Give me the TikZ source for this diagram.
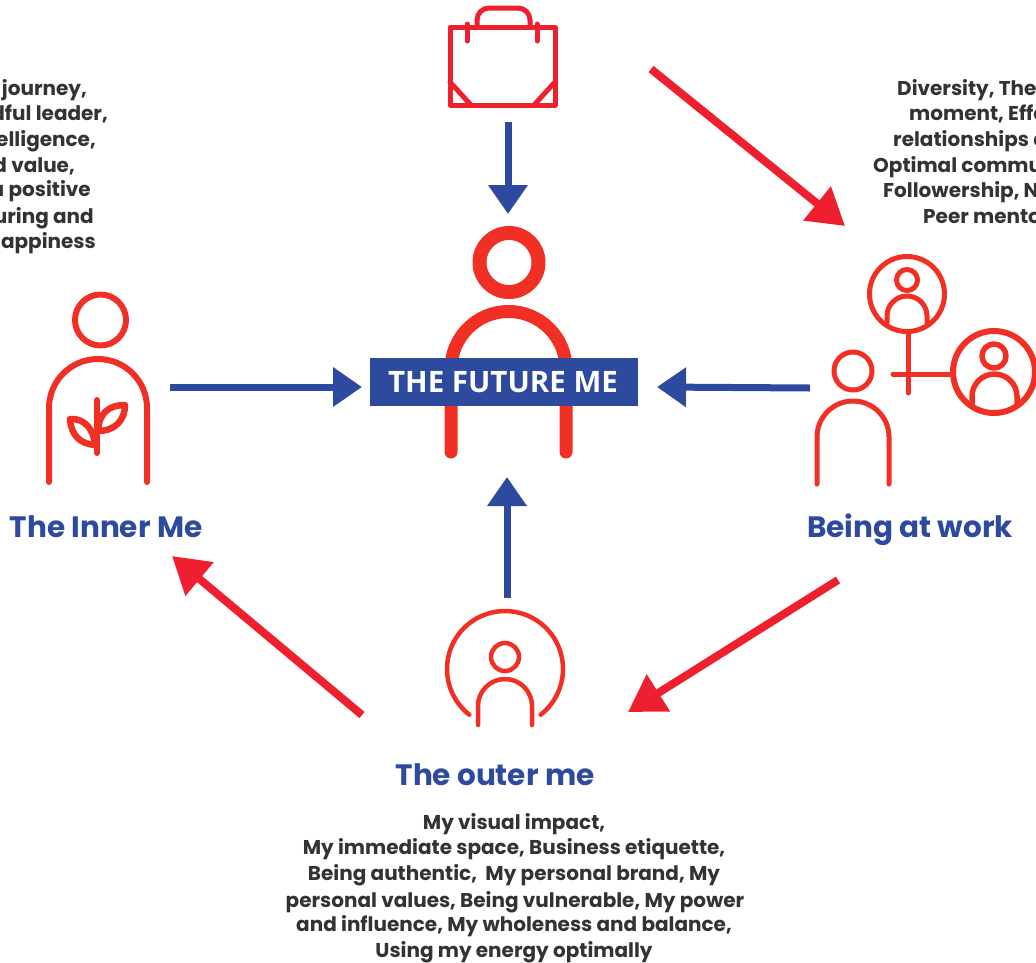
\documentclass[tikz,border=0pt]{standalone}
\usepackage{fontspec}
\setmainfont{Poppins}
\newfontfamily\boxfont{Open Sans}
\usetikzlibrary{arrows.meta}
\definecolor{iconred}{HTML}{F03024}
\definecolor{arrowred}{HTML}{EE2030}
\definecolor{navy}{HTML}{2E4A9E}
\definecolor{ink}{HTML}{333333}
\tikzset{
  icon/.style={draw=iconred,line width=#1,line cap=round,line join=round},
  icon/.default=5pt,
  bagline/.style={draw=arrowred,line width=5pt,line cap=round,line join=round},
  bluearrow/.style={draw=navy,line width=7pt,-{Triangle[length=29pt,width=38pt,fill=navy]}},
  redarrow/.style={draw=arrowred,line width=8pt,-{Triangle[length=36pt,width=42pt,fill=arrowred]}},
  body/.style={font=\fontsize{20}{24}\selectfont\bfseries,text=ink,inner sep=0pt},
  heading/.style={font=\fontsize{29.5}{34}\selectfont\bfseries,text=navy,inner sep=0pt,anchor=base},
}
\begin{document}
\begin{tikzpicture}[x=1pt,y=1pt]
\useasboundingbox (0,0) rectangle (1036,-962);
\clip (0,0) rectangle (1036,-962);
% centre figure
\draw[icon=14pt] (509,-262.5) circle (29.5);
\draw[icon=13pt] (451,-452) -- (451,-369) arc[start angle=180,end angle=0,radius=57.5] -- (566,-452);
\node[fill=navy,minimum width=268pt,minimum height=48pt,inner sep=0pt,text=white,font=\boxfont\fontsize{29.5}{34}\selectfont\bfseries] (core) at (504,-382) {\hspace*{-2pt}THE FUTURE ME};
% bag
\draw[bagline] (450,-27) rectangle (555,-105);
\draw[bagline] (477,-25) -- (477,-20) arc[start angle=180,end angle=90,radius=12] -- (518,-8) arc[start angle=90,end angle=0,radius=12] -- (530,-25);
\draw[bagline] (467,-24) -- (467,-41);
\draw[bagline] (537,-24) -- (537,-41);
\draw[bagline] (450,-82) -- (470,-104);
\draw[bagline] (555,-82) -- (535,-104);
% inner me
\draw[icon=6pt] (100.5,-320) circle (25.5);
\draw[icon=6pt] (49,-482) -- (49,-408) arc[start angle=180,end angle=0,radius=49] -- (147,-482);
\draw[icon=6pt] (97,-400) -- (97,-453);
\draw[icon=6.5pt] (98,-431) .. controls (115,-431) and (125,-420) .. (125,-405) .. controls (110,-405) and (99,-412) .. (98,-431);
\draw[icon=6.5pt] (70,-419) .. controls (85,-418) and (94,-430) .. (95,-445) .. controls (80,-444) and (71,-435) .. (70,-419);
% being at work
\draw[icon=5pt] (853,-371) circle (19);
\draw[icon=5pt] (817,-484) -- (817,-437) arc[start angle=180,end angle=0,radius=36] -- (889,-484);
\draw[icon=5pt] (907,-294) circle (37.5);
\draw[icon=5pt] (907,-280) circle (10.5);
\draw[icon=5pt] (887,-323) -- (887,-316) arc[start angle=180,end angle=0,radius=20] -- (927,-323);
\draw[icon=5pt] (908,-334) -- (908,-393);
\draw[icon=5pt] (893,-374) -- (952,-374);
\draw[icon=6pt] (994,-372) circle (41);
\draw[icon=5.5pt] (994,-356) circle (12);
\draw[icon=5.5pt] (972,-404) -- (972,-396.5) arc[start angle=180,end angle=0,radius=22.5] -- (1017,-404);
% outer me
\draw[icon=4.5pt] (505,-669) ++(232:58) arc[start angle=232,delta angle=-284,radius=58];
\draw[icon=4.5pt] (505,-657) circle (14);
\draw[icon=4.5pt] (478,-725) -- (478,-706) arc[start angle=180,end angle=0,radius=27] -- (532,-725);
% connector ends
\coordinate (bagout) at (508,-122);
\coordinate (bagin) at (508,-214);
\coordinate (innerout) at (170,-387);
\coordinate (innerin) at (362,-387);
\coordinate (workout) at (810,-388);
\coordinate (workin) at (657,-387);
\coordinate (outerout) at (507,-598);
\coordinate (outerin) at (507,-477);
\coordinate (r1a) at (651,-69);
\coordinate (r1b) at (845,-226);
\coordinate (r2a) at (838,-580);
\coordinate (r2b) at (628,-712);
\coordinate (r3a) at (362,-715);
\coordinate (r3b) at (172,-556);
\draw[bluearrow] (bagout) -- (bagin);
\draw[bluearrow] (innerout) -- (innerin);
\draw[bluearrow] (workout) -- (workin);
\draw[bluearrow] (outerout) -- (outerin);
\draw[redarrow] (r1a) -- (r1b);
\draw[redarrow] (r2a) -- (r2b);
\draw[redarrow] (r3a) -- (r3b);
% headings
\node[heading] (hinner) at (106,-537) {The Inner Me};
\node[heading] (hwork) at (910,-537) {Being at work};
\node[heading] (houter) at (495,-785) {The outer me};
% left text
\node[body,anchor=base east] (l1) at (87,-95) {journey,};
\node[body,anchor=base east] (l2) at (108,-120) {dful leader,};
\node[body,anchor=base east] (l3) at (96,-146) {elligence,};
\node[body,anchor=base east] (l4) at (75,-172) {d value,};
\node[body,anchor=base east] (l5) at (91,-196) {a positive};
\node[body,anchor=base east] (l6) at (94,-223) {uring and};
\node[body,anchor=base east] (l7) at (96,-248) {happiness};
% right text
\node[body,anchor=base west] (r1) at (897,-95) {Diversity, The I};
\node[body,anchor=base west] (r2) at (909,-120) {moment, Effe};
\node[body,anchor=base west] (r3) at (893,-146) {relationships a};
\node[body,anchor=base west] (r4) at (873,-172) {Optimal commu};
\node[body,anchor=base west] (r5) at (883,-197) {Followership, N};
\node[body,anchor=base west] (r6) at (923,-223) {Peer mento};
% bottom text
\node[body,anchor=base] (b1) at (514,-829) {My visual impact,};
\node[body,anchor=base] (b2) at (514,-854) {My immediate space, Business etiquette,};
\node[body,anchor=base] (b3) at (514,-880) {Being authentic, \ My personal brand, My};
\node[body,anchor=base] (b4) at (515,-907) {personal values, Being vulnerable, My power};
\node[body,anchor=base] (b5) at (514,-931) {and influence, My wholeness and balance,};
\node[body,anchor=base] (b6) at (514,-957) {Using my energy optimally};
\end{tikzpicture}
\end{document}
